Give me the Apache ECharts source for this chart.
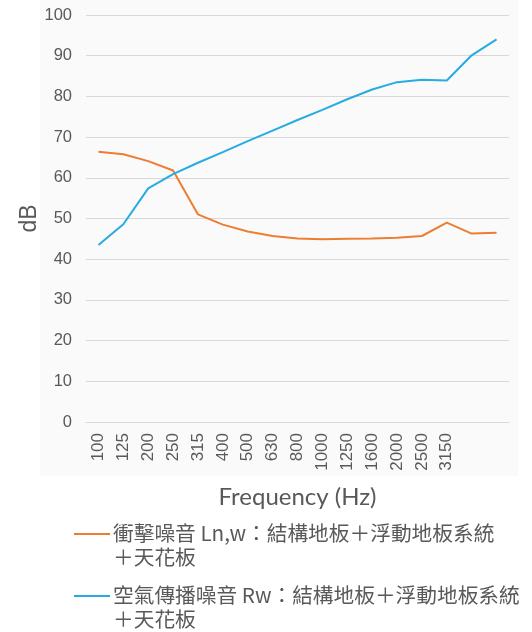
<!DOCTYPE html>
<html>
<head>
<meta charset="utf-8">
<script src="https://cdn.jsdelivr.net/npm/echarts@6/dist/echarts.min.js"></script>
<style>
  html, body { margin: 0; padding: 0; background: #fff; }
  #main { width: 532px; height: 632px; }
</style>
</head>
<body>
<div id="main"></div>
<script>
// 頻率 (Hz)，最後兩點沒有標籤
const categories = ['100', '125', '200', '250', '315', '400', '500', '630', '800', '1000',
  '1250', '1600', '2000', '2500', '3150', '', ' '];
// 衝擊噪音
const impactNoise = [66.4, 65.8, 64.1, 61.8, 51.0, 48.5, 46.8, 45.7, 45.1, 44.9,
  45.0, 45.1, 45.3, 45.7, 49.0, 46.3, 46.5];
// 空氣傳播噪音
const airborneNoise = [43.5, 48.6, 57.4, 60.9, 63.7, 66.3, 69.0, 71.6, 74.2, 76.7,
  79.3, 81.7, 83.5, 84.1, 83.9, 90.1, 94.0];
const yTicks = { min: 0, max: 100, interval: 10 };

const seriesNames = [
  '衝擊噪音 Ln,w：結構地板＋浮動地板系統\n＋天花板',
  '空氣傳播噪音 Rw：結構地板＋浮動地板系統\n＋天花板'
];
const colors = ['#ED7D31', '#26ABE3'];

const chart = echarts.init(document.getElementById('main'));

const legendItems = [];
seriesNames.forEach((name, i) => {
  const y = 534 + i * 62;
  legendItems.push({
    type: 'line',
    shape: { x1: 74, y1: y, x2: 110, y2: y },
    style: { stroke: colors[i], lineWidth: 2 }
  });
  legendItems.push({
    type: 'text',
    left: 113,
    top: y - 13,
    style: {
      text: name,
      fill: '#595959',
      font: '20.7px "Noto Sans CJK TC", sans-serif',
      lineHeight: 24
    }
  });
});

const option = {
  backgroundColor: '#fff',
  animation: false,
  graphic: [
    {
      type: 'rect',
      z: -10,
      shape: { x: 40, y: 0, width: 478, height: 476 },
      style: { fill: '#fafafa' }
    }
  ].concat(legendItems),
  grid: { left: 86, right: 23, top: 15, bottom: 210 },
  xAxis: {
    type: 'category',
    data: categories,
    boundaryGap: true,
    axisTick: { show: false },
    axisLine: { lineStyle: { color: '#d9d9d9', width: 1 } },
    axisLabel: {
      rotate: 90,
      interval: 0,
      margin: 11,
      color: '#595959',
      fontSize: 17,
      fontFamily: 'Liberation Sans'
    },
    name: 'Frequency (Hz)',
    nameLocation: 'middle',
    nameGap: 63,
    nameMoveOverlap: false,
    nameTextStyle: { color: '#595959', fontSize: 24, fontFamily: 'Lato' }
  },
  yAxis: {
    type: 'value',
    min: yTicks.min,
    max: yTicks.max,
    interval: yTicks.interval,
    axisLine: { show: false },
    axisTick: { show: false },
    splitLine: { lineStyle: { color: '#d9d9d9', width: 1 } },
    axisLabel: { color: '#595959', fontSize: 16.5, margin: 14, fontFamily: 'Liberation Sans' },
    name: 'dB',
    nameLocation: 'middle',
    nameGap: 45,
    nameMoveOverlap: false,
    nameTextStyle: { color: '#595959', fontSize: 23, fontFamily: 'Liberation Sans' }
  },
  series: [
    {
      name: seriesNames[0],
      type: 'line',
      data: impactNoise,
      symbol: 'none',
      color: colors[0],
      lineStyle: { width: 2 }
    },
    {
      name: seriesNames[1],
      type: 'line',
      data: airborneNoise,
      symbol: 'none',
      color: colors[1],
      lineStyle: { width: 2 }
    }
  ]
};

chart.setOption(option);
</script>
</body>
</html>
